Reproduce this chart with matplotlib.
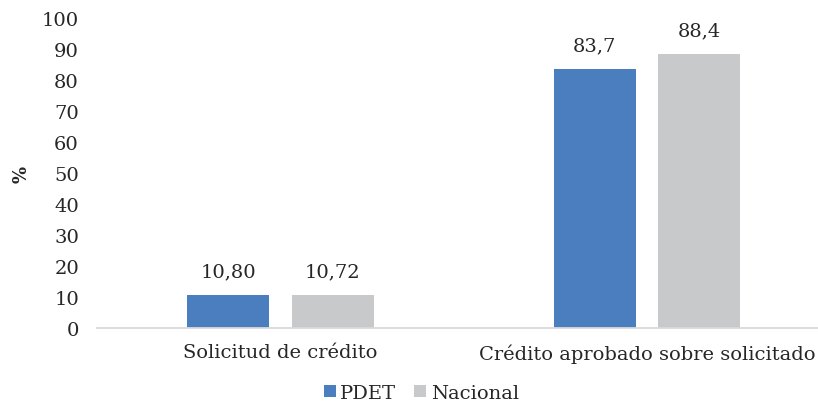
import matplotlib

matplotlib.use("Agg")
import matplotlib.pyplot as plt
import numpy as np

CATEGORIES = ["Solicitud de crédito", "Crédito aprobado sobre solicitado"]
SERIES = ["PDET", "Nacional"]
PDET = [10.80, 83.7]
NACIONAL = [10.72, 88.4]
LABELS_PDET = ["10,80", "83,7"]
LABELS_NACIONAL = ["10,72", "88,4"]

BLUE = "#4a7ebf"
GRAY = "#c8c9ca"
INK = "#262626"

plt.rcParams["font.family"] = ["DejaVu Serif"]

fig = plt.figure(figsize=(8.18, 4.02), dpi=100)
ax = fig.add_axes([97 / 818, 73 / 402, 721 / 818, 310 / 402])

x = np.arange(len(CATEGORIES))
w = 0.223
off = 0.1425
b1 = ax.bar(x - off, PDET, w, color=BLUE, label=SERIES[0])
b2 = ax.bar(x + off, NACIONAL, w, color=GRAY, label=SERIES[1])

for bars, labels in ((b1, LABELS_PDET), (b2, LABELS_NACIONAL)):
    for rect, lab in zip(bars, labels):
        ax.text(rect.get_x() + rect.get_width() / 2, rect.get_height() + 4.6, lab,
                ha="center", va="bottom", fontsize=14, color=INK)

ax.set_xlim(-0.5, 1.466)
ax.set_ylim(0, 100)
ax.set_yticks(range(0, 101, 10))
ax.set_xticks(x)
ax.set_xticklabels(CATEGORIES, fontsize=14, color=INK)
ax.tick_params(axis="y", length=0, labelsize=14, labelcolor=INK, pad=13)
ax.tick_params(axis="x", length=0, pad=11)
for s in ("top", "right", "left"):
    ax.spines[s].set_visible(False)
ax.spines["bottom"].set_color("#d9d9d9")
ax.spines["bottom"].set_linewidth(1.3)

ax.set_ylabel("%", fontsize=13, fontweight="bold", color=INK, labelpad=8)

fig.legend(handles=[b1, b2], loc="lower center", bbox_to_anchor=(0.515, -0.045), ncol=2,
           frameon=False, fontsize=14, handlelength=0.6, handleheight=0.6,
           handletextpad=0.25, columnspacing=0.9, labelcolor=INK)

fig.savefig("out.png", dpi=100, facecolor="white")
